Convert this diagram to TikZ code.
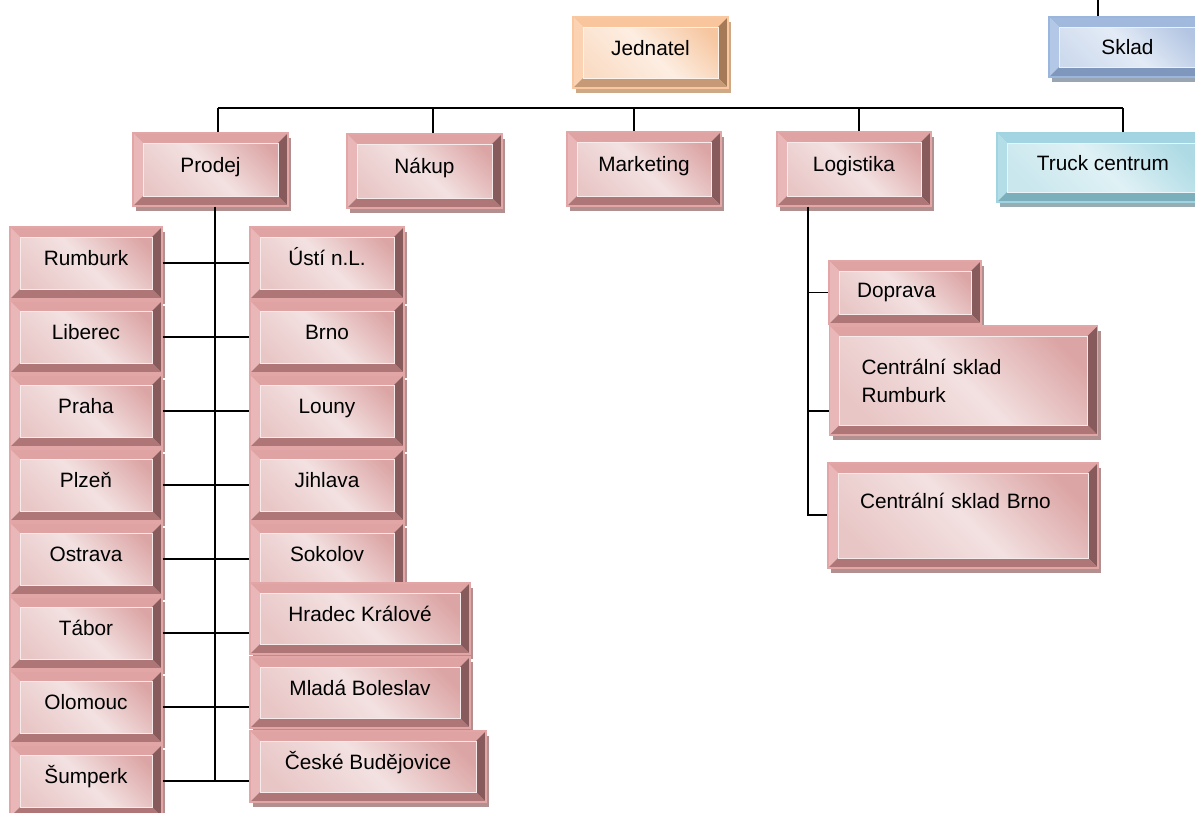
\documentclass[tikz,border=0pt]{standalone}
\usepackage{fontspec}
\setmainfont{Liberation Sans}
\usetikzlibrary{shadows}
% pink
\definecolor{pkfa}{HTML}{F3E1E1}\definecolor{pkfb}{HTML}{DCA5A5}
\definecolor{pktp}{HTML}{DFA3A3}\definecolor{pklf}{HTML}{E9B7B7}
\definecolor{pkrt}{HTML}{875B5B}\definecolor{pkbt}{HTML}{AE7676}
\definecolor{pkrim}{HTML}{E2A6A6}\definecolor{pksh}{HTML}{B39090}
% orange
\definecolor{orfa}{HTML}{FDEEE2}\definecolor{orfb}{HTML}{F6C6A0}
\definecolor{ortp}{HTML}{F9C59C}\definecolor{orlf}{HTML}{FCD3B2}
\definecolor{orrt}{HTML}{A57A56}\definecolor{orbt}{HTML}{C69A76}
\definecolor{orrim}{HTML}{F9C8A0}\definecolor{orsh}{HTML}{CDA988}
% blue
\definecolor{blfa}{HTML}{E3EBF6}\definecolor{blfb}{HTML}{B2C5E2}
\definecolor{bltp}{HTML}{A0B9DD}\definecolor{bllf}{HTML}{B3C8E6}
\definecolor{blrt}{HTML}{6B84AA}\definecolor{blbt}{HTML}{7F97BC}
\definecolor{blrim}{HTML}{9BB6DC}\definecolor{blsh}{HTML}{9AA5B3}
% cyan
\definecolor{cyfa}{HTML}{DFF1F5}\definecolor{cyfb}{HTML}{ADDAE4}
\definecolor{cytp}{HTML}{A2D5E1}\definecolor{cylf}{HTML}{B3DEE7}
\definecolor{cyrt}{HTML}{6DA3AF}\definecolor{cybt}{HTML}{7AAFBB}
\definecolor{cyrim}{HTML}{9FD4E0}\definecolor{cysh}{HTML}{98ADB3}

\newcommand\bevpic[1]{%
  \coordinate (bvNW) at (path picture bounding box.north west);
  \coordinate (bvNE) at (path picture bounding box.north east);
  \coordinate (bvSE) at (path picture bounding box.south east);
  \coordinate (bvSW) at (path picture bounding box.south west);
  \shade[top color=#1fb, bottom color=#1fb!45!#1fa, middle color=#1fa, shading angle=-45] (bvNW) rectangle (bvSE);
  \fill[#1tp] (bvNW) -- (bvNE) -- ([xshift=-10pt,yshift=-10pt]bvNE) -- ([xshift=10pt,yshift=-10pt]bvNW) -- cycle;
  \fill[#1lf] (bvNW) -- ([xshift=10pt,yshift=-10pt]bvNW) -- ([xshift=10pt,yshift=10pt]bvSW) -- (bvSW) -- cycle;
  \fill[#1rt] (bvNE) -- (bvSE) -- ([xshift=-10pt,yshift=10pt]bvSE) -- ([xshift=-10pt,yshift=-10pt]bvNE) -- cycle;
  \fill[#1bt] (bvSW) -- ([xshift=10pt,yshift=10pt]bvSW) -- ([xshift=-10pt,yshift=10pt]bvSE) -- (bvSE) -- cycle;
  \draw[#1fa!70!white, line width=0.8pt] ([xshift=10pt,yshift=-10pt]bvNW) rectangle ([xshift=-10pt,yshift=10pt]bvSE);
}

\tikzset{
  bev/.style={rectangle, inner sep=0pt, draw=#1rim, line width=1.2pt,
    path picture={\bevpic{#1}},
    drop shadow={shadow xshift=3pt, shadow yshift=-5pt, fill=#1sh, opacity=1},
    text height=15pt, text depth=10pt, text=black,
    font=\fontsize{20.8}{28}\selectfont},
  lcol/.style={bev=pk, minimum width=152pt, minimum height=72pt},
  rcol/.style={bev=pk, minimum width=154pt, minimum height=72pt},
  conn/.style={draw=black, line width=1.8pt},
}

\begin{document}
\begin{tikzpicture}[x=1pt, y=-1pt]
\path[use as bounding box, fill=white] (0,0) rectangle (1195,812);

% top level
\node[bev=or, minimum width=155pt, minimum height=71pt] (jed) at (650.5,52.5) {Jednatel};
\node[bev=bl, minimum width=157pt, minimum height=60pt, text depth=0pt] (skl) at (1127.5,47) {Sklad};
\node[bev=pk, minimum width=155pt, minimum height=73pt] (pro) at (210.5,169.5) {Prodej};
\node[bev=pk, minimum width=155pt, minimum height=74pt] (nak) at (424.5,171) {Nákup};
\node[bev=pk, minimum width=154pt, minimum height=74pt] (mkt) at (644,169) {Marketing};
\node[bev=pk, minimum width=154pt, minimum height=74pt] (log) at (854,169) {Logistika};
\node[bev=cy, minimum width=212pt, minimum height=69pt] (trk) at (1103,167.5) {Truck centrum};

% left column
\node[lcol] (l1) at (86,263) {Rumburk};
\node[lcol] (l2) at (86,337) {Liberec};
\node[lcol] (l3) at (86,411) {Praha};
\node[lcol] (l4) at (86,485) {Plzeň};
\node[lcol] (l5) at (86,559) {Ostrava};
\node[lcol] (l6) at (86,633) {Tábor};
\node[lcol] (l7) at (86,707) {Olomouc};
\node[lcol] (l8) at (86,781) {Šumperk};

% right column
\node[rcol] (r1) at (327,263) {Ústí n.L.};
\node[rcol] (r2) at (327,337) {Brno};
\node[rcol] (r3) at (327,411) {Louny};
\node[rcol] (r4) at (327,485) {Jihlava};
\node[rcol] (r5) at (327,559) {Sokolov};
\node[bev=pk, minimum width=220pt, minimum height=71pt] (r6) at (360,618.5) {Hradec Králové};
\node[bev=pk, minimum width=220pt, minimum height=71pt] (r7) at (360,692.5) {Mladá Boleslav};
\node[bev=pk, minimum width=236pt, minimum height=71pt] (r8) at (368,766.5) {České Budějovice};

% logistics
\node[bev=pk, minimum width=152pt, minimum height=63pt, text width=96pt, inner xsep=28pt, align=left, text depth=5pt] (dop) at (905,292.5) {Doprava};
\node[bev=pk, minimum width=268pt, minimum height=109pt, text width=204pt, inner xsep=32pt, align=left, text height={}, text depth={}] (csr) at (963.5,380.5) {Centrální sklad\\Rumburk};
\node[bev=pk, minimum width=270pt, minimum height=105pt, text width=206pt, inner xsep=32pt, align=left, text depth=29pt] (csb) at (963,515.5) {Centrální sklad Brno};

% connectors
\coordinate (bP) at (218,108);
\coordinate (bN) at (433,108);
\coordinate (bM) at (634,108);
\coordinate (bL) at (859,108);
\coordinate (bT) at (1123,108);
\draw[conn] (bP) -- (bT);
\draw[conn] (bP) -- (bP |- pro.north);
\draw[conn] (bN) -- (bN |- nak.north);
\draw[conn] (bM) -- (bM |- mkt.north);
\draw[conn] (bL) -- (bL |- log.north);
\draw[conn] (bT) -- (bT |- trk.north);

\coordinate (st) at (1098,0);
\draw[conn] (st) -- (st |- skl.north);

\coordinate (pv) at (215,781);
\draw[conn] (pv |- pro.south) -- (pv);
\draw[conn] (l1.east) -- (l1.east -| r1.west);
\draw[conn] (l2.east) -- (l2.east -| r2.west);
\draw[conn] (l3.east) -- (l3.east -| r3.west);
\draw[conn] (l4.east) -- (l4.east -| r4.west);
\draw[conn] (l5.east) -- (l5.east -| r5.west);
\draw[conn] (l6.east) -- (l6.east -| r6.west);
\draw[conn] (l7.east) -- (l7.east -| r7.west);
\draw[conn] (l8.east) -- (l8.east -| r8.west);

\coordinate (lv) at (808,515);
\coordinate (lr) at (808,411);
\draw[conn] (lv |- log.south) -- (lv) -- (lv -| csb.west);
\draw[conn] (lv |- dop.west) -- (dop.west);
\draw[conn] (lr) -- (lr -| csr.west);
\end{tikzpicture}
\end{document}
